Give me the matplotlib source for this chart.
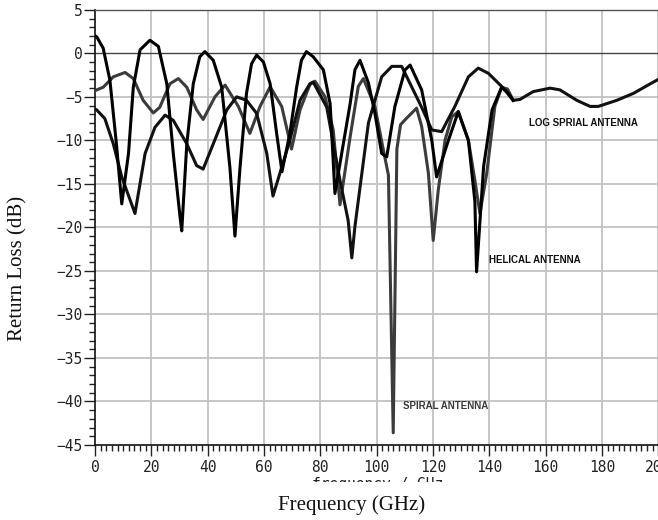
import matplotlib
matplotlib.use("Agg")
import matplotlib.pyplot as plt
from matplotlib.patches import Rectangle
from matplotlib.ticker import MultipleLocator

# ---------------- data ----------------
helical_f = [0.0, 0.6, 2.9, 5.3, 7.6, 9.5, 11.9, 13.6, 16.0, 19.5, 22.5, 25.5, 27.8, 30.2, 30.8,
             32.6, 34.9, 37.2, 39.0, 42.0, 45.0, 47.9, 49.7, 51.5, 53.8, 55.6, 57.4, 59.8, 62.2,
             64.5, 66.4, 69.2, 71.6, 73.3, 75.1, 77.5, 81.1, 83.5, 85.2, 87.6, 90.6, 92.3, 94.1,
             97.1, 99.4, 101.8, 103.6, 106.5, 110.1, 111.9, 116.0, 119.6, 121.3, 125.5, 129.0,
             132.6, 134.9, 135.5, 138.0, 141.0, 144.4, 146.5, 148.5]
helical_db = [2.0, 1.9, 0.6, -3.1, -10.4, -17.3, -11.5, -3.9, 0.4, 1.5, 0.8, -3.5, -11.5, -18.8, -20.4,
              -10.4, -3.5, -0.4, 0.2, -0.8, -3.9, -13.1, -21.0, -13.1, -4.6, -1.2, -0.2, -1.0, -3.5,
              -9.2, -13.6, -9.2, -3.9, -0.8, 0.2, -0.4, -1.9, -5.8, -16.1, -11.5, -5.8, -1.9, -0.8,
              -3.4, -6.9, -11.5, -11.9, -6.1, -1.9, -1.35, -4.2, -10.0, -14.2, -10.0, -6.7,
              -10.0, -17.0, -25.1, -13.0, -6.5, -3.9, -4.5, -5.4]

spiral_f = [0.0, 0.6, 2.9, 6.5, 10.7, 13.6, 17.1, 20.7, 23.0, 26.6, 29.6, 32.6, 36.1, 38.4, 42.6,
            46.2, 50.9, 55.0, 58.6, 62.2, 66.3, 69.8, 72.8, 76.3, 78.1, 81.7, 84.6, 87.0, 90.6,
            93.5, 95.3, 99.4, 102.4, 104.2, 105.9, 107.2, 108.5, 110.5, 114.2, 116.0, 118.4, 120.1,
            121.9, 124.3, 126.7, 129.0, 132.6, 134.9, 136.7, 139.1, 142.0, 144.4, 146.5, 148.5]
spiral_db = [-4.3, -4.2, -3.9, -2.7, -2.2, -2.9, -5.4, -6.85, -6.2, -3.5, -2.9, -3.9, -6.5, -7.6, -5.0,
             -3.65, -6.1, -9.2, -6.1, -3.85, -6.1, -11.0, -6.5, -3.6, -3.2, -5.0, -8.8, -17.4, -9.6,
             -3.8, -2.9, -6.1, -11.1, -14.0, -43.6, -11.0, -8.2, -7.5, -6.3, -8.4, -13.8, -21.5,
             -15.7, -10.0, -7.3, -6.7, -10.0, -14.6, -18.4, -13.8, -6.1, -3.9, -4.1, -5.4]

logspiral_f = [0.0, 0.6, 3.5, 6.5, 9.5, 14.2, 17.8, 21.3, 24.9, 27.8, 32.6, 36.1, 38.4, 42.0, 46.8,
               50.3, 53.8, 57.4, 61.0, 63.2, 69.2, 72.8, 76.3, 77.5, 82.3, 87.0, 89.9, 91.2, 92.3,
               97.1, 101.8, 105.4, 108.9, 116.0, 119.6, 123.1, 127.8, 132.6, 136.1, 139.7, 144.4,
               146.5, 148.5, 150.9, 155.6, 161.6, 165.1, 171.1, 175.8, 178.7, 185.3, 191.2, 197.2, 200.0]
logspiral_db = [-6.4, -6.5, -7.5, -10.4, -14.2, -18.4, -11.5, -8.5, -7.1, -7.7, -10.4, -12.9, -13.3, -10.4, -6.5,
                -5.0, -5.4, -6.9, -11.5, -16.4, -10.0, -5.4, -3.5, -3.3, -6.2, -14.6, -19.2, -23.5, -19.9,
                -8.0, -2.7, -1.5, -1.5, -6.2, -8.8, -9.0, -6.1, -2.7, -1.7, -2.3, -3.8,
                -4.6, -5.4, -5.3, -4.4, -4.0, -4.2, -5.4, -6.1, -6.1, -5.4, -4.6, -3.5, -3.0]

x_ticks = [0, 20, 40, 60, 80, 100, 120, 140, 160, 180, 200]
y_ticks = [5, 0, -5, -10, -15, -20, -25, -30, -35, -40, -45]

# ---------------- figure ----------------
W, H = 658, 520
fig = plt.figure(figsize=(W / 100, H / 100), dpi=100)
fig.patch.set_facecolor("white")
ax = fig.add_axes([95 / W, 75 / H, 563.2 / W, 435.2 / H])

ax.set_xlim(0, 200)
ax.set_ylim(-45, 5)

ax.set_xticks(x_ticks)
ax.set_yticks(y_ticks)
ax.xaxis.set_minor_locator(MultipleLocator(2))
ax.yaxis.set_minor_locator(MultipleLocator(1))

# grid drawn explicitly
for xv in x_ticks[1:]:
    ax.axvline(xv, color="#c2c2c2", linewidth=1.3, zorder=0.5)
for yv in y_ticks:
    if yv not in (0, 5, -45):
        ax.axhline(yv, color="#c2c2c2", linewidth=1.3, zorder=0.5)
ax.axhline(0, color="#444444", linewidth=1.0, zorder=1)

ax.plot(spiral_f, spiral_db, color="#3c3c3c", linewidth=2.2, solid_joinstyle="round", zorder=3)
ax.plot(logspiral_f, logspiral_db, color="#111111", linewidth=2.2, solid_joinstyle="round", zorder=4)
ax.plot(helical_f, helical_db, color="#000000", linewidth=2.2, solid_joinstyle="round", zorder=5)

lab_kw = dict(fontsize=7, fontweight="bold", family="Liberation Sans", ha="center", va="center")
ax.text(173.6, -8.0, "LOG SPRIAL ANTENNA", color="#111111", **lab_kw)
ax.text(156.3, -23.7, "HELICAL ANTENNA", color="#111111", **lab_kw)
ax.text(124.6, -40.5, "SPIRAL ANTENNA", color="#3a3a3a", **lab_kw)

for lbl in ax.get_xticklabels() + ax.get_yticklabels():
    lbl.set_fontfamily("DejaVu Sans Mono")
    lbl.set_fontsize(10.5)
    lbl.set_color("#222222")
ax.tick_params(axis="x", which="major", direction="out", length=8, width=1, pad=3, color="#222222")
ax.tick_params(axis="x", which="minor", direction="out", length=4.5, width=1, color="#222222")
ax.tick_params(axis="y", which="major", direction="out", length=8, width=1, pad=1, color="#222222")
ax.tick_params(axis="y", which="minor", direction="out", length=4, width=1, color="#222222")

for s in ["left", "bottom"]:
    ax.spines[s].set_color("#111111")
    ax.spines[s].set_linewidth(1.2)
ax.spines["top"].set_color("#555555")
ax.spines["top"].set_linewidth(1.0)
ax.spines["right"].set_visible(False)

# partially hidden inner axis title
fig.text(377.5 / W, 1 - 476.5 / H, "frequency / GHz", family="DejaVu Sans Mono", fontsize=10.5,
         ha="center", va="top", color="#222222")
fig.add_artist(Rectangle((0.30, 1 - 492 / H), 0.45, (492 - 481.7) / H, transform=fig.transFigure,
                         facecolor="white", edgecolor="none", zorder=10))

fig.text(352 / W, 1 - 505 / H, "Frequency (GHz)", family="Liberation Serif", fontsize=15,
         ha="center", va="center", color="#111111")
fig.text(18 / W, 1 - 268 / H, "Return Loss (dB)", family="Liberation Serif", fontsize=15,
         ha="center", va="center", rotation=90, color="#111111")

fig.savefig("out.png", dpi=100, facecolor="white")
